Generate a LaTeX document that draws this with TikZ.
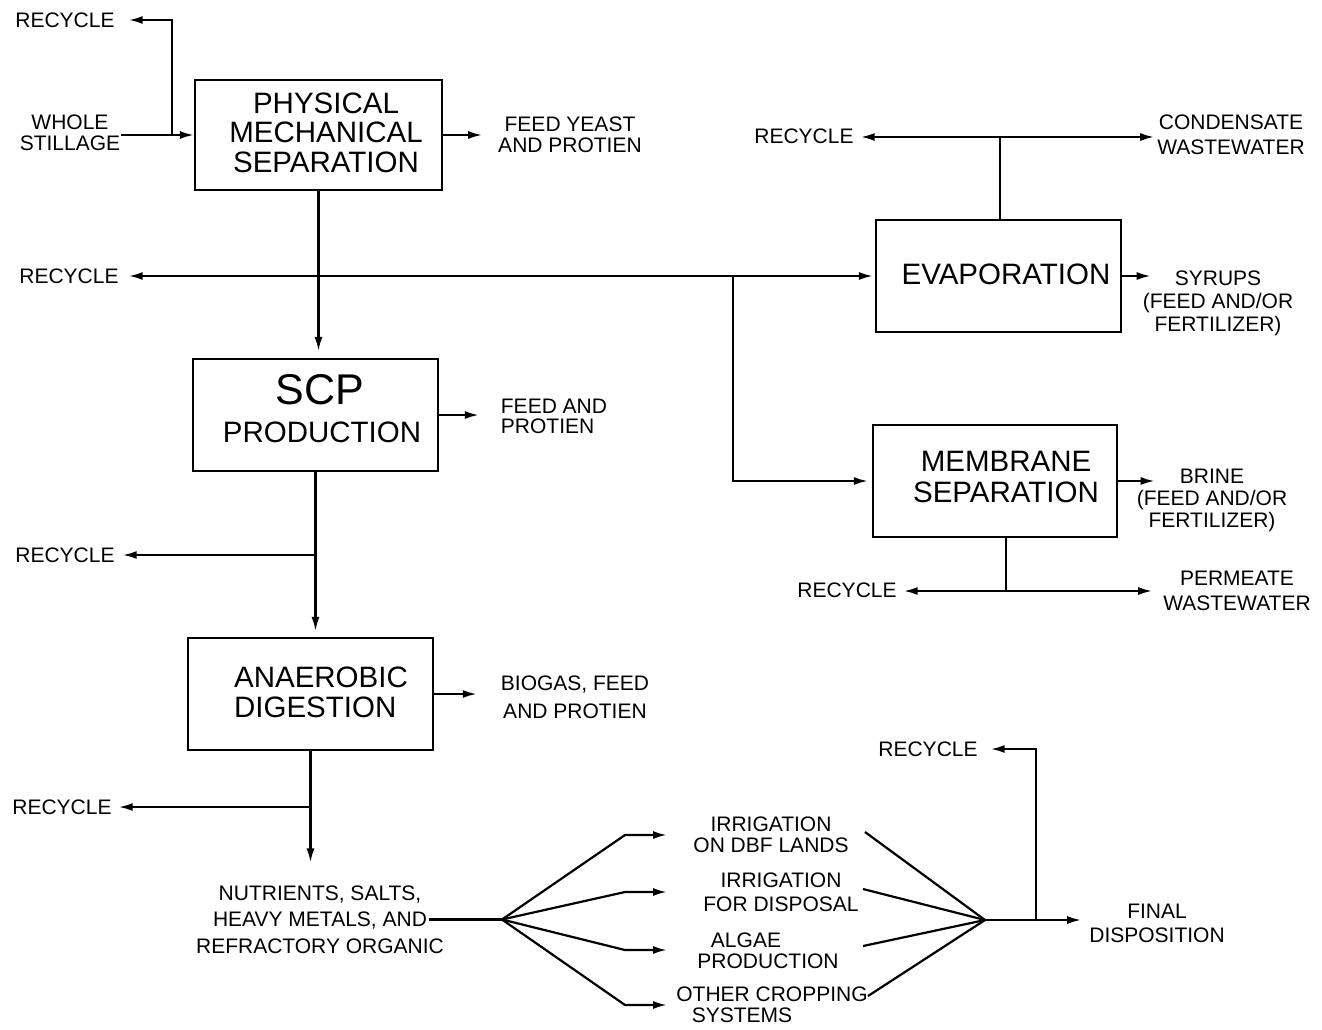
\documentclass[tikz,border=0pt]{standalone}
\usepackage{fontspec}
\setmainfont{Liberation Sans}
\usetikzlibrary{arrows.meta}
\begin{document}
\begin{tikzpicture}[x=1pt,y=-1pt,
  line width=2.2pt,
  procbox/.style={draw, line width=2.2pt, inner sep=0pt},
  lbl/.style={font=\fontsize{21}{#1}\selectfont, align=center, inner sep=0pt},
  lbl/.default=22,
  bigt/.style={font=\fontsize{29.5}{29.5}\selectfont, align=center, inner sep=0pt},
  arr/.style={-{Latex[length=14pt,width=8pt]}},
  arrb/.style={{Latex[length=14pt,width=8pt]}-{Latex[length=14pt,width=8pt]}}]
\fill[white] (0,0) rectangle (1322,1029);
\useasboundingbox (0,0) rectangle (1322,1029);

% process boxes
\node[procbox, minimum width=247pt, minimum height=110pt] (pms) at (318.5,135) {};
\node[procbox, minimum width=245pt, minimum height=112pt] (scp) at (315.5,415) {};
\node[procbox, minimum width=245pt, minimum height=112pt] (ad) at (310.5,694) {};
\node[procbox, minimum width=245pt, minimum height=112pt] (evap) at (998.5,276) {};
\node[procbox, minimum width=244pt, minimum height=112pt] (mem) at (995,481) {};

% box texts
\node[bigt] (pmst) at (326,132.5) {PHYSICAL\\MECHANICAL\\SEPARATION};
\node[inner sep=0pt, font=\fontsize{43}{43}\selectfont] (scpa) at (320,390) {SCP};
\node[bigt] (scpb) at (322,432) {PRODUCTION};
\node[bigt, align=left, anchor=west, font=\fontsize{29.5}{30}\selectfont] (adt) at (233,692) {ANAEROBIC\\DIGESTION};
\node[bigt] (evapt) at (1006,274) {EVAPORATION};
\node[bigt, font=\fontsize{29.5}{31}\selectfont] (memt) at (1006,477) {MEMBRANE\\SEPARATION};

% labels
\node[lbl] (rec1) at (65,20) {RECYCLE};
\node[lbl=21] (whole) at (70,133) {WHOLE\\STILLAGE};
\node[lbl=21] (feedyeast) at (570,134.5) {FEED YEAST\\AND PROTIEN};
\node[lbl] (rec2) at (69,276) {RECYCLE};
\node[lbl] (rec3) at (804,136) {RECYCLE};
\node[lbl=25] (cond) at (1231,134.5) {CONDENSATE\\WASTEWATER};
\node[lbl=23] (syr) at (1218,303) {SYRUPS\\(FEED AND/OR\\FERTILIZER)};
\node[lbl=20, align=left] (feedand) at (554,416) {FEED AND\\PROTIEN};
\node[lbl=22] (brine) at (1212,500) {BRINE\\(FEED AND/OR\\FERTILIZER)};
\node[lbl] (rec7) at (847,590) {RECYCLE};
\node[lbl=25] (perm) at (1237,591) {PERMEATE\\WASTEWATER};
\node[lbl] (rec4) at (65,555) {RECYCLE};
\node[lbl=28] (biogas) at (575,697) {BIOGAS, FEED\\AND PROTIEN};
\node[lbl] (rec5) at (62,807) {RECYCLE};
\node[lbl=26.5] (nut) at (320,919.5) {NUTRIENTS, SALTS,\\HEAVY METALS, AND\\REFRACTORY ORGANIC};
\node[lbl=21] (irr1) at (771,834.5) {IRRIGATION\\ON DBF LANDS};
\node[lbl=24] (irr2) at (781,892) {IRRIGATION\\FOR DISPOSAL};
\node[lbl=21] (alg) at (768,950.5) {ALGAE\hspace*{44pt}\\PRODUCTION};
\node[lbl=21] (oth) at (772,1004.5) {OTHER CROPPING\\SYSTEMS\hspace*{60pt}};
\node[lbl] (rec6) at (928,749) {RECYCLE};
\node[lbl=24] (final) at (1157,923) {FINAL\\DISPOSITION};

% connectors: top
\coordinate (j1) at (172,135);
\draw[arr] (whole.east |- pms.west) -- (pms.west);
\draw[arr] (j1) |- ([xshift=13pt]rec1.east);
\draw[arr] (pms.east) -- ([xshift=-15pt]feedyeast.west |- pms.east);
\draw[arr, shorten >=7pt] (pms.south) -- (pms.south |- scp.north);

% recycle / evaporation line
\draw[arrb] ([xshift=9pt]rec2.east) -- ([xshift=-2pt]rec2.east -| evap.west);
\coordinate (j3) at (733,276);
\draw[arr, shorten >=4pt] (j3) |- (mem.west);
\draw[arr] (evap.east) -- ([xshift=9pt]syr.west |- evap.east);
\coordinate (j4) at (1000,137);
\draw (evap.north -| j4) -- (j4);
\draw[arr] (j4) -- ([xshift=6pt]rec3.east |- j4);
\draw[arr] (j4) -- ([xshift=-2pt]cond.west |- j4);

% SCP
\draw[arr] (scp.east) -- ([xshift=-21pt]feedand.west |- scp.east);
\draw[arr, shorten >=6pt] (scp.south) -- (scp.south |- ad.north);
\coordinate (j6) at (scp.south |- rec4.east);
\draw[arr] (j6) -- ([xshift=7pt]rec4.east);

% membrane
\draw[arr] (mem.east) -- ([xshift=19pt]brine.west |- mem.east);
\coordinate (jm) at (1006,591);
\draw (jm |- mem.south) -- (jm);
\draw[arr] (jm) -- ([xshift=6pt]rec7.east |- jm);
\draw[arr] (jm) -- ([xshift=-10pt]perm.west |- jm);

% anaerobic digestion
\draw[arr] (ad.east) -- ([xshift=-23pt]biogas.west |- ad.east);
\draw[arr, shorten >=22pt] (ad.south) -- (ad.south |- nut.north);
\coordinate (j7) at (ad.south |- rec5.east);
\draw[arr] (j7) -- ([xshift=6pt]rec5.east);

% fan out
\coordinate (nutend) at ([xshift=-16pt]nut.east);
\coordinate (fan) at (502,919.5);
\draw (nutend) -- (fan);
\coordinate (f1) at (625,835);
\coordinate (f2) at (625,892);
\coordinate (f3) at (625,950);
\coordinate (f4) at (625,1005);
\draw[arr] (fan) -- (f1) -- ([xshift=42pt]f1);
\draw[arr] (fan) -- (f2) -- ([xshift=42pt]f2);
\draw[arr] (fan) -- (f3) -- ([xshift=42pt]f3);
\draw[arr] (fan) -- (f4) -- ([xshift=42pt]f4);

% converge
\coordinate (conv) at (985,920);
\coordinate (c1) at (865,832);
\coordinate (c2) at (863,889);
\coordinate (c3) at (863,946);
\coordinate (c4) at (868,996);
\draw (c1) -- (conv);
\draw (c2) -- (conv);
\draw (c3) -- (conv);
\draw (c4) -- (conv);
\draw[arr] (conv) -- ([xshift=-7pt]final.west |- conv);
\coordinate (j5) at (1036,920);
\draw[arr] (j5) |- ([xshift=12pt]rec6.east);
\end{tikzpicture}
\end{document}
